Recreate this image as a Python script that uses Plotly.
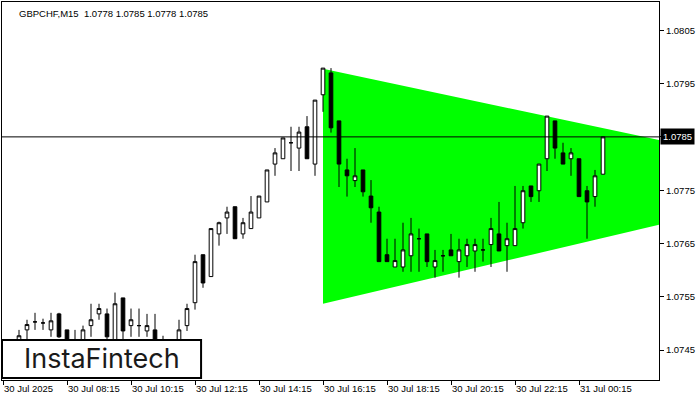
import plotly.graph_objects as go

# ---- data ----
bar_index = list(range(76))
opens = [1.07447, 1.07454, 1.07466, 1.07488, 1.07503, 1.07501, 1.07488, 1.07518, 1.07488, 1.07466,
         1.07466, 1.07496, 1.07518, 1.07518, 1.07466, 1.07548, 1.07496, 1.07496, 1.07486, 1.07488,
         1.07466, 1.07454, 1.07466, 1.07496, 1.07539, 1.07629, 1.07588, 1.07668, 1.07698, 1.07719,
         1.07668, 1.07678, 1.07698, 1.07728, 1.07799, 1.07809, 1.07839, 1.07829, 1.07869, 1.07799,
         1.07929, 1.07970, 1.07880, 1.07788, 1.07768, 1.07788, 1.07739, 1.07709, 1.07629, 1.07606,
         1.07606, 1.07627, 1.07659, 1.07668, 1.07606, 1.07627, 1.07638, 1.07616, 1.07627, 1.07636,
         1.07638, 1.07648, 1.07668, 1.07646, 1.07646, 1.07689, 1.07758, 1.07749, 1.07809, 1.07880,
         1.07820, 1.07809, 1.07809, 1.07749, 1.07738, 1.07780]
highs = [1.07460, 1.07464, 1.07488, 1.07507, 1.07520, 1.07509, 1.07520, 1.07520, 1.07488, 1.07488,
         1.07496, 1.07537, 1.07537, 1.07528, 1.07558, 1.07548, 1.07528, 1.07528, 1.07518, 1.07518,
         1.07477, 1.07466, 1.07507, 1.07537, 1.07629, 1.07629, 1.07678, 1.07691, 1.07719, 1.07719,
         1.07698, 1.07739, 1.07739, 1.07788, 1.07829, 1.07848, 1.07869, 1.07869, 1.07889, 1.07919,
         1.07979, 1.07979, 1.07880, 1.07809, 1.07829, 1.07788, 1.07769, 1.07719, 1.07659, 1.07659,
         1.07689, 1.07698, 1.07678, 1.07668, 1.07638, 1.07638, 1.07668, 1.07659, 1.07659, 1.07659,
         1.07659, 1.07698, 1.07728, 1.07689, 1.07758, 1.07758, 1.07758, 1.07799, 1.07889, 1.07880,
         1.07839, 1.07829, 1.07809, 1.07758, 1.07788, 1.07850]
lows = [1.07432, 1.07440, 1.07458, 1.07466, 1.07488, 1.07488, 1.07475, 1.07473, 1.07451, 1.07447,
        1.07462, 1.07475, 1.07507, 1.07469, 1.07460, 1.07469, 1.07475, 1.07475, 1.07475, 1.07454,
        1.07447, 1.07443, 1.07460, 1.07486, 1.07526, 1.07567, 1.07588, 1.07646, 1.07668, 1.07659,
        1.07659, 1.07678, 1.07698, 1.07728, 1.07777, 1.07809, 1.07786, 1.07786, 1.07809, 1.07777,
        1.07897, 1.07858, 1.07756, 1.07738, 1.07756, 1.07738, 1.07689, 1.07616, 1.07616, 1.07606,
        1.07597, 1.07597, 1.07597, 1.07606, 1.07586, 1.07597, 1.07627, 1.07586, 1.07606, 1.07597,
        1.07616, 1.07606, 1.07636, 1.07597, 1.07646, 1.07678, 1.07728, 1.07728, 1.07786, 1.07809,
        1.07799, 1.07777, 1.07738, 1.07659, 1.07719, 1.07780]
closes = [1.07454, 1.07460, 1.07477, 1.07498, 1.07503, 1.07501, 1.07505, 1.07475, 1.07460, 1.07458,
          1.07488, 1.07507, 1.07528, 1.07475, 1.07537, 1.07486, 1.07507, 1.07496, 1.07496, 1.07460,
          1.07454, 1.07460, 1.07488, 1.07528, 1.07616, 1.07576, 1.07678, 1.07689, 1.07709, 1.07659,
          1.07689, 1.07709, 1.07739, 1.07788, 1.07820, 1.07848, 1.07839, 1.07859, 1.07809, 1.07919,
          1.07979, 1.07867, 1.07799, 1.07777, 1.07777, 1.07747, 1.07717, 1.07616, 1.07616, 1.07618,
          1.07638, 1.07668, 1.07659, 1.07616, 1.07618, 1.07627, 1.07627, 1.07638, 1.07648, 1.07648,
          1.07638, 1.07678, 1.07636, 1.07659, 1.07678, 1.07749, 1.07738, 1.07799, 1.07889, 1.07829,
          1.07799, 1.07820, 1.07738, 1.07728, 1.07777, 1.07850]

tick_positions = [0, 8, 16, 24, 32, 40, 48, 56, 64, 72]
tick_labels = ["30 Jul 2025", "30 Jul 08:15", "30 Jul 10:15", "30 Jul 12:15", "30 Jul 14:15",
               "30 Jul 16:15", "30 Jul 18:15", "30 Jul 20:15", "30 Jul 22:15", "31 Jul 00:15"]
price_ticks = [1.0745, 1.0755, 1.0765, 1.0775, 1.0785, 1.0795, 1.0805]
# the 1.0785 level is labelled by the black current-price box instead
price_tick_labels = ["1.0745", "1.0755", "1.0765", "1.0775", "", "1.0795", "1.0805"]

pattern_x = [40, 82]
pattern_upper = [1.07978, 1.07844]
pattern_lower = [1.07537, 1.07685]

current_price = 1.0785
current_price_label = "1.0785"
title_text = "GBPCHF,M15  1.0778 1.0785 1.0778 1.0785"
logo_text = "InstaFintech"

FONT = "Liberation Sans"

fig = go.Figure()

fig.add_trace(go.Candlestick(
    x=bar_index, open=opens, high=highs, low=lows, close=closes,
    increasing=dict(line=dict(color="black", width=1), fillcolor="white"),
    decreasing=dict(line=dict(color="black", width=1), fillcolor="black"),
    whiskerwidth=0, showlegend=False,
))

# symmetrical triangle pattern (green), drawn beneath the candles
tri_path = "M {x0},{u0} L {x1},{u1} L {x1},{l1} L {x0},{l0} Z".format(
    x0=pattern_x[0], x1=pattern_x[1], u0=pattern_upper[0], u1=pattern_upper[1],
    l0=pattern_lower[0], l1=pattern_lower[1])
fig.add_shape(type="path", path=tri_path, xref="x", yref="y",
              fillcolor="#00FF00", line=dict(width=0), layer="below")

fig.update_layout(
    width=700, height=400,
    margin=dict(l=2, r=41, t=2, b=20),
    paper_bgcolor="white", plot_bgcolor="white",
    boxgap=0.35,
    font=dict(family=FONT, size=9.5, color="black"),
    xaxis=dict(
        range=[-0.125, 82], showgrid=False, zeroline=False,
        showline=True, mirror=True, linecolor="black", linewidth=1,
        ticks="outside", ticklen=4, tickcolor="black",
        tickvals=tick_positions, ticktext=tick_labels,
        ticklabelposition="outside right",
        rangeslider=dict(visible=False),
        tickfont=dict(family=FONT, size=9.5, color="black"),
    ),
    yaxis=dict(
        side="right", range=[1.07394, 1.08103], showgrid=False, zeroline=False,
        showline=True, mirror=True, linecolor="black", linewidth=1,
        ticks="outside", ticklen=4, tickcolor="black",
        tickvals=price_ticks, ticktext=price_tick_labels,
        tickfont=dict(family=FONT, size=9.5, color="black"),
    ),
    hovermode=False,
)

# current price line
fig.add_shape(type="line", xref="paper", x0=0, x1=1, yref="y", y0=current_price, y1=current_price,
              line=dict(color="black", width=1), layer="above")

# logo box
fig.add_shape(type="rect", xref="paper", yref="paper", x0=0, x1=0.303, y0=0.005, y1=0.106,
              fillcolor="white", line=dict(color="black", width=2), layer="above")

fig.add_annotation(xref="paper", yref="paper", x=0.152, y=0.056, text=logo_text, showarrow=False,
                   font=dict(family="Inter", size=27, color="#1a1a1a"), xanchor="center", yanchor="middle")

# current price label on axis
fig.add_annotation(xref="paper", yref="y", x=1, y=current_price, xanchor="left", yanchor="middle",
                   xshift=1, text=current_price_label, showarrow=False, bgcolor="black",
                   font=dict(family=FONT, size=9.5, color="white"), borderpad=2)

# title
fig.add_annotation(xref="paper", yref="paper", x=0.023, y=0.97, xanchor="left", yanchor="middle",
                   text=title_text, showarrow=False, font=dict(family=FONT, size=9.5, color="black"))

fig.write_html("out.html", config={"displayModeBar": False},
               post_script="document.body.style.margin='0';")
